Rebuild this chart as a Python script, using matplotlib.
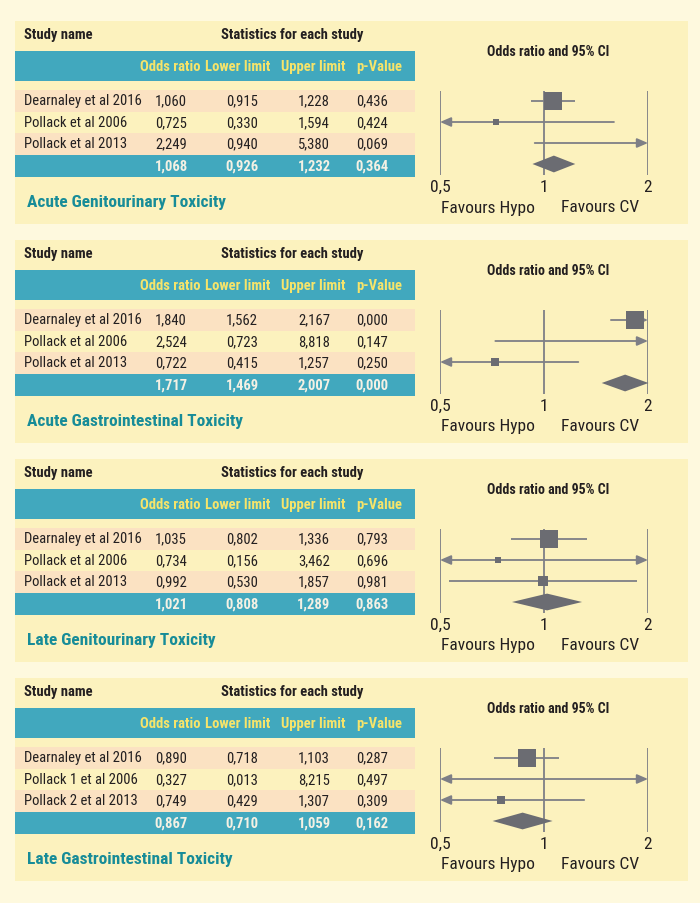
import os
import numpy as np
import matplotlib
matplotlib.use("Agg")
import matplotlib.pyplot as plt
from matplotlib import font_manager as fm
from matplotlib.font_manager import FontProperties
from matplotlib.patches import Rectangle, Polygon
from matplotlib.ticker import NullLocator

# ---------------- data ----------------
panel_titles = ["Acute Genitourinary Toxicity", "Acute Gastrointestinal Toxicity",
                "Late Genitourinary Toxicity", "Late Gastrointestinal Toxicity"]
study_names = [
    ["Dearnaley et al 2016", "Pollack et al 2006", "Pollack et al 2013"],
    ["Dearnaley et al 2016", "Pollack et al 2006", "Pollack et al 2013"],
    ["Dearnaley et al 2016", "Pollack et al 2006", "Pollack et al 2013"],
    ["Dearnaley et al 2016", "Pollack 1 et al 2006", "Pollack 2 et al 2013"],
]
odds_ratio = [[1.060, 0.725, 2.249], [1.840, 2.524, 0.722],
              [1.035, 0.734, 0.992], [0.890, 0.327, 0.749]]
lower_limit = [[0.915, 0.330, 0.940], [1.562, 0.723, 0.415],
               [0.802, 0.156, 0.530], [0.718, 0.013, 0.429]]
upper_limit = [[1.228, 1.594, 5.380], [2.167, 8.818, 1.257],
               [1.336, 3.462, 1.857], [1.103, 8.215, 1.307]]
p_value = [[0.436, 0.424, 0.069], [0.000, 0.147, 0.250],
           [0.793, 0.696, 0.981], [0.287, 0.497, 0.309]]
summary_or = [1.068, 1.717, 1.021, 0.867]
summary_lo = [0.926, 1.469, 0.808, 0.710]
summary_hi = [1.232, 2.007, 1.289, 1.059]
summary_p = [0.364, 0.000, 0.863, 0.162]
col_headers = ["Odds ratio", "Lower limit", "Upper limit", "p-Value"]
axis_ticks = [0.5, 1, 2]
axis_ticklabels = ["0,5", "1", "2"]
favours = ["Favours Hypo", "Favours CV"]

# ---------------- fonts ----------------
def find_font(files):
    lut = {os.path.basename(f.fname).lower(): f.fname for f in fm.fontManager.ttflist}
    for f in files:
        if f.lower() in lut:
            return lut[f.lower()]
    return None

reg_path = find_font(["RobotoCondensed-Regular.ttf", "LiberationSansNarrow-Regular.ttf",
                      "NotoSans-Condensed.ttf", "DejaVuSansCondensed.ttf"])
bold_path = find_font(["RobotoCondensed-Bold.ttf", "LiberationSansNarrow-Bold.ttf",
                       "NotoSans-CondensedBold.ttf", "DejaVuSansCondensed-Bold.ttf"])

def fp(size, bold=False):
    path = bold_path if bold else reg_path
    if path:
        return FontProperties(fname=path, size=size)
    return FontProperties(family="Liberation Sans", size=size * 0.88,
                          weight="bold" if bold else "normal")

# ---------------- colours ----------------
OUTER = "#FEF9DE"
PANEL = "#FCF2BE"
TEAL = "#41A8BE"
PEACH = "#FBE2C2"
TITLE = "#178C98"
HEAD = "#F6E46A"
SUMTXT = "#F4F1E4"
DARK = "#231F20"
LINE = "#7E7F86"
MARK = "#6B6C72"

W, H = 700, 904
fig = plt.figure(figsize=(W / 100, H / 100), dpi=100, facecolor=OUTER)
bg = fig.add_axes([0, 0, 1, 1])
bg.set_xlim(0, W)
bg.set_ylim(H, 0)
bg.axis("off")

col_x = [171, 242, 314, 372]
head_x = [170, 238, 313, 379]
row_y = [101.5, 123, 144.5]
sum_y = 166.5
X0, X2 = 440, 648          # pixel position of 0.5 and 2 on the forest axis
AX_TOP, AX_BOT = 91.5, 175.5

def fmt(v):
    return f"{v:.3f}".replace(".", ",")

for k in range(4):
    off = 219 * k
    bg.add_patch(Rectangle((15, 22 + off), 673, 203, color=PANEL, lw=0))
    bg.add_patch(Rectangle((15, 52 + off), 400, 30, color=TEAL, lw=0))
    bg.add_patch(Rectangle((15, 91 + off), 400, 21.5, color=PEACH, lw=0))
    bg.add_patch(Rectangle((15, 134 + off), 400, 21.5, color=PEACH, lw=0))
    bg.add_patch(Rectangle((15, 155.5 + off), 400, 22.5, color=TEAL, lw=0))

    bg.text(24, 35 + off, "Study name", fontproperties=fp(10.5, True), color=DARK,
            ha="left", va="center")
    bg.text(292, 35 + off, "Statistics for each study", fontproperties=fp(10.5, True),
            color=DARK, ha="center", va="center")
    for hx, h in zip(head_x, col_headers):
        bg.text(hx, 67 + off, h, fontproperties=fp(10.5, True), color=HEAD,
                ha="center", va="center")
    for i in range(3):
        y = row_y[i] + off
        bg.text(24, y, study_names[k][i], fontproperties=fp(10.5), color=DARK,
                ha="left", va="center")
        vals = [odds_ratio[k][i], lower_limit[k][i], upper_limit[k][i], p_value[k][i]]
        for cx, v in zip(col_x, vals):
            bg.text(cx, y, fmt(v), fontproperties=fp(10.5), color=DARK,
                    ha="center", va="center")
    svals = [summary_or[k], summary_lo[k], summary_hi[k], summary_p[k]]
    for cx, v in zip(col_x, svals):
        bg.text(cx, sum_y + off, fmt(v), fontproperties=fp(10.5, True), color=SUMTXT,
                ha="center", va="center")
    bg.text(27, 203 + off, panel_titles[k], fontproperties=fp(12.5, True), color=TITLE,
            ha="left", va="center")

    # ---------- forest plot ----------
    bg.text(548, 52 + off, "Odds ratio and 95% CI", fontproperties=fp(10, True),
            color=DARK, ha="center", va="center")
    ax = fig.add_axes([X0 / W, 1 - (AX_BOT + off) / H, (X2 - X0) / W, (AX_BOT - AX_TOP) / H])
    ax.set_xscale("log")
    ax.set_xlim(axis_ticks[0], axis_ticks[-1])
    ax.set_ylim(3.5, -0.5)
    ax.patch.set_visible(False)
    for s in ax.spines.values():
        s.set_visible(False)
    ax.set_yticks([])
    ax.set_xticks(axis_ticks)
    ax.set_xticklabels(axis_ticklabels)
    ax.xaxis.set_minor_locator(NullLocator())
    ax.tick_params(axis="x", length=0, pad=3, colors=DARK)
    for lab in ax.get_xticklabels():
        lab.set_fontproperties(fp(12.5))
    for v in axis_ticks:
        ax.axvline(v, color=LINE, lw=1.3, zorder=1)

    lo_lim, hi_lim = axis_ticks[0], axis_ticks[-1]
    ses = [(np.log(upper_limit[k][i]) - np.log(lower_limit[k][i])) / 3.92 for i in range(3)]
    wts = [1 / s ** 2 for s in ses]
    wmax = max(wts)
    arrow_kw = dict(color=LINE, lw=1.3, shrinkA=0, shrinkB=0, mutation_scale=10)
    for i in range(3):
        o, lo, hi = odds_ratio[k][i], lower_limit[k][i], upper_limit[k][i]
        a = max(lo, lo_lim)
        b = min(hi, hi_lim)
        if lo < lo_lim and hi > hi_lim:
            ax.annotate("", xy=(a, i), xytext=(b, i),
                        arrowprops=dict(arrowstyle="<|-|>,head_length=0.65,head_width=0.28", **arrow_kw))
        elif lo < lo_lim:
            ax.annotate("", xy=(a, i), xytext=(b, i),
                        arrowprops=dict(arrowstyle="-|>,head_length=0.65,head_width=0.28", **arrow_kw))
        elif hi > hi_lim:
            ax.annotate("", xy=(b, i), xytext=(a, i),
                        arrowprops=dict(arrowstyle="-|>,head_length=0.65,head_width=0.28", **arrow_kw))
        else:
            ax.plot([a, b], [i, i], color=LINE, lw=1.3, solid_capstyle="butt", zorder=2)
        if lo_lim <= o <= hi_lim:
            side_px = max(5.5, 17.5 * (wts[i] / wmax) ** 0.35)
            ax.plot([o], [i], marker="s", ms=side_px * 0.72, color=MARK, mec=MARK,
                    mew=0, zorder=4, clip_on=False)
    so, sl, sh = summary_or[k], summary_lo[k], summary_hi[k]
    ax.add_patch(Polygon([(sl, 3), (so, 2.6), (sh, 3), (so, 3.4)], closed=True,
                         color=MARK, lw=0, zorder=4, clip_on=False))

    bg.text(488, 208 + off, favours[0], fontproperties=fp(12.5), color=DARK,
            ha="center", va="center")
    bg.text(600, 208 + off, favours[1], fontproperties=fp(12.5), color=DARK,
            ha="center", va="center")

fig.savefig("out.png", dpi=100, facecolor=OUTER)
